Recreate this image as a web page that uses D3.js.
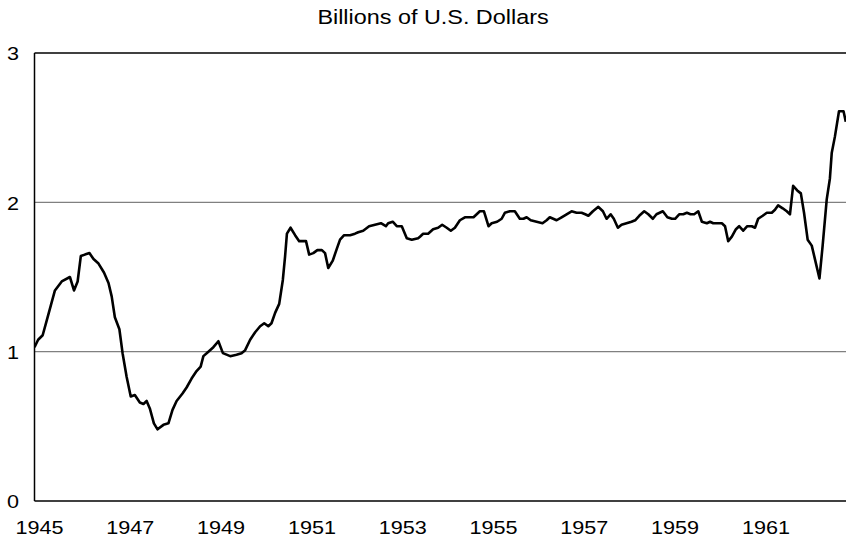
<!DOCTYPE html>
<html>
<head>
<meta charset="utf-8">
<script src="https://cdn.jsdelivr.net/npm/d3@7"></script>
<style>
  body { margin: 0; background: #fff; }
  svg { display: block; font-family: "Liberation Sans", Arial, sans-serif; }
</style>
</head>
<body>
<svg id="chart" width="846" height="541"></svg>
<script>
// decimal year of each reading, and value in billions of U.S. dollars
let years = [
  1945.00,1945.08,1945.18,1945.27,1945.36,1945.45,1945.60,1945.78,1945.87,1945.95,
  1946.02,1946.11,1946.21,1946.30,1946.41,1946.53,1946.63,1946.70,1946.77,1946.87,1946.94,
  1947.03,1947.12,1947.21,1947.32,1947.40,1947.47,1947.54,1947.63,1947.71,1947.84,1947.95,
  1948.04,1948.13,1948.26,1948.35,1948.46,1948.57,1948.66,1948.72,1948.83,1948.94,
  1949.05,1949.15,1949.23,1949.31,1949.45,1949.56,1949.64,1949.75,1949.86,1949.97,
  1950.06,1950.15,1950.22,1950.30,1950.39,1950.47,1950.52,1950.56,1950.64,1950.74,1950.83,1950.98,
  1951.05,1951.14,1951.23,1951.33,1951.40,1951.47,1951.57,1951.66,1951.73,1951.82,1951.95,
  1952.06,1952.13,1952.24,1952.37,1952.50,1952.63,1952.74,1952.79,1952.89,1952.98,
  1953.09,1953.20,1953.31,1953.45,1953.49,1953.56,1953.67,1953.78,1953.89,1953.98,
  1954.08,1954.17,1954.26,1954.37,1954.48,1954.59,1954.67,1954.81,1954.90,1955.00,
  1955.07,1955.19,1955.29,1955.36,1955.47,1955.58,1955.69,1955.77,1955.84,1955.93,
  1956.06,1956.19,1956.28,1956.35,1956.50,1956.61,1956.72,1956.83,1956.94,
  1957.05,1957.13,1957.20,1957.30,1957.42,1957.52,1957.60,1957.69,1957.76,1957.85,1957.93,
  1958.04,1958.15,1958.23,1958.32,1958.43,1958.52,1958.62,1958.70,1958.84,1958.94,
  1959.04,1959.11,1959.20,1959.29,1959.37,1959.45,1959.53,1959.62,1959.70,1959.81,1959.88,1959.95,
  1960.06,1960.14,1960.21,1960.28,1960.36,1960.45,1960.52,1960.61,1960.70,1960.80,1960.87,1960.94,
  1961.04,1961.13,1961.24,1961.31,1961.38,1961.48,1961.57,1961.64,1961.71,1961.80,1961.88,1961.95,
  1962.03,1962.12,1962.19,1962.29,1962.36,1962.45,1962.52,1962.56,1962.63,1962.72,1962.82,1962.87
]
let values = [
  1.03,1.08,1.11,1.21,1.31,1.41,1.47,1.50,1.41,1.47,
  1.64,1.65,1.66,1.62,1.59,1.53,1.46,1.37,1.23,1.15,0.99,
  0.83,0.70,0.71,0.66,0.65,0.67,0.62,0.52,0.48,0.51,0.52,
  0.61,0.67,0.72,0.76,0.82,0.87,0.90,0.97,1.00,1.03,
  1.07,0.99,0.98,0.97,0.98,0.99,1.01,1.08,1.13,1.17,
  1.19,1.17,1.19,1.26,1.32,1.48,1.64,1.79,1.83,1.78,1.74,1.74,
  1.65,1.66,1.68,1.68,1.66,1.56,1.61,1.69,1.75,1.78,1.78,
  1.79,1.80,1.81,1.84,1.85,1.86,1.84,1.86,1.87,1.84,
  1.84,1.76,1.75,1.76,1.77,1.79,1.79,1.82,1.83,1.85,
  1.83,1.81,1.83,1.88,1.90,1.90,1.90,1.94,1.94,1.84,
  1.86,1.87,1.89,1.93,1.94,1.94,1.89,1.89,1.90,1.88,
  1.87,1.86,1.88,1.90,1.88,1.90,1.92,1.94,1.93,
  1.93,1.92,1.91,1.94,1.97,1.94,1.89,1.92,1.89,1.83,1.85,
  1.86,1.87,1.88,1.91,1.94,1.92,1.89,1.92,1.94,1.90,
  1.89,1.89,1.92,1.92,1.93,1.92,1.92,1.94,1.87,1.86,1.87,1.86,
  1.86,1.86,1.84,1.74,1.77,1.82,1.84,1.81,1.84,1.84,1.83,1.89,
  1.91,1.93,1.93,1.95,1.98,1.96,1.94,1.92,2.11,2.08,2.06,1.93,
  1.75,1.71,1.62,1.49,1.71,2.02,2.16,2.33,2.44,2.61,2.61,2.54
]
let yTicks = [0, 1, 2, 3]
let gridValues = [1, 2]
let yearLabels = [1945, 1947, 1949, 1951, 1953, 1955, 1957, 1959, 1961]
let title = 'Billions of U.S. Dollars'

let data = years.map(function(t, i){ return {x: t, y: values[i]} })

let margin = {top: 53, left: 34.5, bottom: 40},
    fullW = 846, fullH = 541

let svg = d3.select('#chart')

let x = d3.scaleLinear()
  .domain([1945, 1963])
  .range([margin.left, margin.left + 18 * 45.4])

let y = d3.scaleLinear()
  .domain([0, 3])
  .range([501, margin.top])

svg.append('defs').append('clipPath')
  .attr('id', 'plotclip')
  .append('rect')
  .attr('x', margin.left)
  .attr('y', margin.top - 5)
  .attr('width', fullW - margin.left)
  .attr('height', y(0) - margin.top + 10)

// gray gridlines
svg.selectAll('line.grid')
  .data(gridValues)
  .enter()
  .append('line')
  .attr('class', 'grid')
  .attr('x1', margin.left)
  .attr('x2', fullW)
  .attr('y1', function(d){ return y(d) })
  .attr('y2', function(d){ return y(d) })
  .attr('stroke', '#808080')
  .attr('stroke-width', 1.2)

// frame: top, left, bottom
svg.append('line')
  .attr('x1', margin.left).attr('x2', fullW)
  .attr('y1', y(3)).attr('y2', y(3))
  .attr('stroke', '#000').attr('stroke-width', 1.5)
svg.append('line')
  .attr('x1', margin.left).attr('x2', fullW)
  .attr('y1', y(0)).attr('y2', y(0))
  .attr('stroke', '#000').attr('stroke-width', 1.5)
svg.append('line')
  .attr('x1', margin.left).attr('x2', margin.left)
  .attr('y1', y(3)).attr('y2', y(0))
  .attr('stroke', '#000').attr('stroke-width', 1.5)

svg.append('path')
  .datum(data)
  .attr('clip-path', 'url(#plotclip)')
  .attr('fill', 'none')
  .attr('stroke', '#000')
  .attr('stroke-width', 2.6)
  .attr('stroke-linejoin', 'round')
  .attr('d', d3.line()
    .x(function(d){ return x(d.x) })
    .y(function(d){ return y(d.y) })
  )

// y labels
svg.selectAll('text.ylab')
  .data(yTicks)
  .enter()
  .append('text')
  .attr('class', 'ylab')
  .attr('transform', function(d){ return 'translate(19,' + (y(d) + 1) + ') scale(1.2,1)' })
  .attr('text-anchor', 'end')
  .attr('dy', '0.35em')
  .attr('font-size', 18)
  .attr('fill', '#000')
  .text(function(d){ return d })

// x labels
svg.selectAll('text.xlab')
  .data(yearLabels)
  .enter()
  .append('text')
  .attr('class', 'xlab')
  .attr('transform', function(d){ return 'translate(' + (x(d) + 5) + ',534) scale(1.2,1)' })
  .attr('text-anchor', 'middle')
  .attr('font-size', 18)
  .attr('fill', '#000')
  .text(function(d){ return d })

svg.append('text')
  .attr('transform', 'translate(433,24) scale(1.2,1)')
  .attr('text-anchor', 'middle')
  .attr('font-size', 19.5)
  .attr('fill', '#000')
  .text(title)
</script>
</body>
</html>
